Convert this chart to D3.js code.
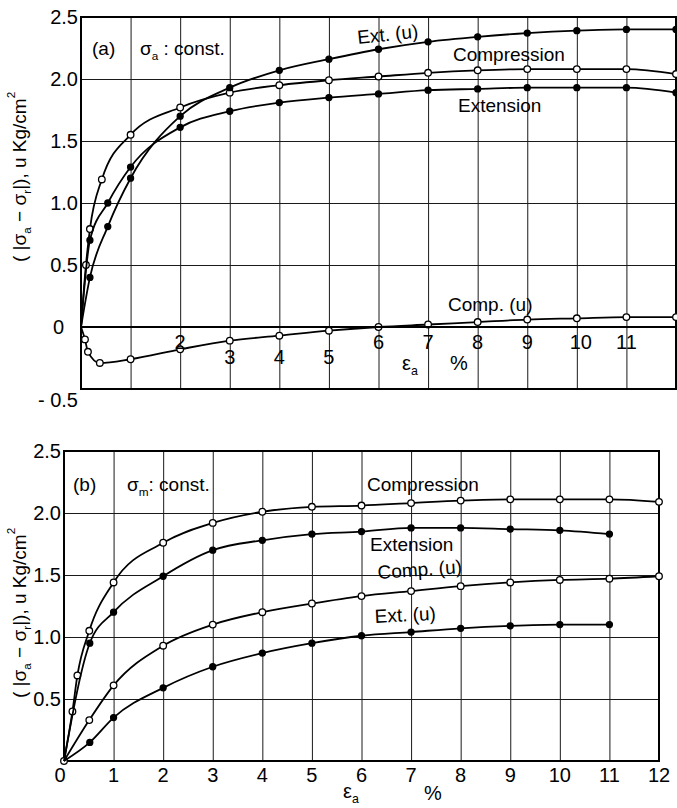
<!DOCTYPE html>
<meta charset="utf-8" />
<style>
  body { margin: 0; background: #fff; }
  svg { display: block; background: #fff; font-family: "Liberation Sans", Arial, sans-serif; }
  .grid line { stroke: #1a1a1a; stroke-width: 1; }
  .grid path { display: none; }
  .frame { fill: none; stroke: #000; stroke-width: 2; }
  .curve { fill: none; stroke: #000; stroke-width: 1.8; }
  .tick-lbl { font-size: 20px; fill: #000; }
  .lbl { font-size: 19px; fill: #000; }
</style>
<body>
<script src="https://d3js.org/d3.v7.min.js"></script>
<script>

// ---- panel (a): sigma_a const. ----
var aCompX   = [0, 0.1, 0.18, 0.42, 1, 2, 3, 4, 5, 6, 7, 8, 9, 10, 11, 12];
var aCompY   = [0, 0.50, 0.79, 1.19, 1.55, 1.77, 1.89, 1.95, 1.99, 2.02, 2.05, 2.07, 2.08, 2.08, 2.08, 2.04];
var aExtX    = [0, 0.18, 0.54, 1, 2, 3, 4, 5, 6, 7, 8, 9, 10, 11, 12];
var aExtY    = [0, 0.70, 1.00, 1.29, 1.61, 1.74, 1.81, 1.85, 1.88, 1.91, 1.92, 1.93, 1.93, 1.93, 1.89];
var aExtUX   = [0, 0.18, 0.54, 1, 2, 3, 4, 5, 6, 7, 8, 9, 10, 11, 12];
var aExtUY   = [0, 0.40, 0.81, 1.20, 1.70, 1.93, 2.07, 2.16, 2.24, 2.30, 2.34, 2.37, 2.39, 2.40, 2.40];
var aCompUX  = [0, 0.08, 0.14, 0.38, 1, 2, 3, 4, 5, 6, 7, 8, 9, 10, 11, 12];
var aCompUY  = [0, -0.10, -0.20, -0.29, -0.26, -0.18, -0.11, -0.07, -0.03, 0.00, 0.02, 0.04, 0.06, 0.07, 0.08, 0.08];

// ---- panel (b): sigma_m const. ----
var bCompX   = [0, 0.17, 0.27, 0.51, 1, 2, 3, 4, 5, 6, 7, 8, 9, 10, 11, 12];
var bCompY   = [0, 0.40, 0.69, 1.05, 1.44, 1.76, 1.92, 2.01, 2.05, 2.06, 2.08, 2.10, 2.11, 2.11, 2.11, 2.09];
var bExtX    = [0, 0.52, 1, 2, 3, 4, 5, 6, 7, 8, 9, 10, 11];
var bExtY    = [0, 0.95, 1.20, 1.49, 1.70, 1.78, 1.83, 1.85, 1.88, 1.88, 1.87, 1.86, 1.83];
var bCompUX  = [0, 0.51, 1, 2, 3, 4, 5, 6, 7, 8, 9, 10, 11, 12];
var bCompUY  = [0, 0.33, 0.61, 0.93, 1.10, 1.20, 1.27, 1.33, 1.37, 1.41, 1.44, 1.46, 1.47, 1.49];
var bExtUX   = [0, 0.52, 1, 2, 3, 4, 5, 6, 7, 8, 9, 10, 11];
var bExtUY   = [0, 0.15, 0.35, 0.59, 0.76, 0.87, 0.95, 1.01, 1.04, 1.07, 1.09, 1.10, 1.10];

// tick labels
var aYTicks  = [2.5, 2.0, 1.5, 1.0, 0.5, 0, -0.5];
var aYLabels = ["2.5", "2.0", "1.5", "1.0", "0.5", "0", "- 0.5"];
var aXTicks  = [2, 3, 4, 5, 6, 7, 8, 9, 10, 11];
var bYTicks  = [2.5, 2.0, 1.5, 1.0, 0.5];
var bYLabels = ["2.5", "2.0", "1.5", "1.0", "0.5"];
var bXTicks  = [0, 1, 2, 3, 4, 5, 6, 7, 8, 9, 10, 11, 12];
var gridX    = [1, 2, 3, 4, 5, 6, 7, 8, 9, 10, 11];

function pairs(xs, ys) {
  return xs.map(function(v, i) { return [v, ys[i]]; });
}

var svg = d3.select("body").append("svg")
    .attr("width", 677)
    .attr("height", 808);

// scales
var xA = d3.scaleLinear().domain([0, 12]).range([81, 676]);
var yA = d3.scaleLinear().domain([-0.5, 2.5]).range([389, 17]);
var xB = d3.scaleLinear().domain([0, 12]).range([64, 659]);
var yB = d3.scaleLinear().domain([0, 2.5]).range([761, 451]);

function drawPanel(x, y, yMin, yGrid, series) {
  var g = svg.append("g");
  var w = x(12) - x(0), h = y(yMin) - y(2.5);

  g.append("g").attr("class", "grid")
      .attr("transform", "translate(0," + y(yMin) + ")")
      .call(d3.axisBottom(x).tickValues(gridX).tickSize(-h).tickFormat(""));
  g.append("g").attr("class", "grid")
      .attr("transform", "translate(" + x(0) + ",0)")
      .call(d3.axisLeft(y).tickValues(yGrid).tickSize(-w).tickFormat(""));

  g.append("rect").attr("class", "frame")
      .attr("x", x(0)).attr("y", y(2.5))
      .attr("width", w).attr("height", h);

  var line = d3.line()
      .x(function(d) { return x(d[0]); })
      .y(function(d) { return y(d[1]); })
      .curve(d3.curveMonotoneX);

  series.forEach(function(s) {
    var pts = pairs(s.x, s.y);
    g.append("path").attr("class", "curve").attr("d", line(pts));
    g.selectAll(null)
        .data(pts.slice(s.from))
        .enter().append("circle")
        .attr("cx", function(d) { return x(d[0]); })
        .attr("cy", function(d) { return y(d[1]); })
        .attr("r", s.open ? 3.3 : 3)
        .attr("fill", s.open ? "#fff" : "#000")
        .attr("stroke", "#000")
        .attr("stroke-width", 1.3);
  });
  return g;
}

// text helper: parts are [text, kind] where kind is "sub", "sup" or "back" (back to baseline)
function richText(parent, px, py, parts, cls, rot) {
  var t = parent.append("text").attr("class", cls)
      .attr("x", px).attr("y", py);
  if (rot) t.attr("transform", "rotate(" + rot + "," + px + "," + py + ")");
  parts.forEach(function(p) {
    var ts = t.append("tspan").text(p[0]);
    if (p[1] === "sub") ts.attr("font-size", "0.62em").attr("dy", "0.4em");
    if (p[1] === "sup") ts.attr("font-size", "0.62em").attr("dy", "-0.9em");
    if (p[1] === "back") ts.attr("dy", "-0.248em");
  });
  return t;
}

// ---------- panel (a) ----------
var gA = drawPanel(xA, yA, -0.5, [0.5, 1.0, 1.5, 2.0], [
  {x: aCompX,  y: aCompY,  open: true,  from: 1},
  {x: aExtX,   y: aExtY,   open: false, from: 1},
  {x: aExtUX,  y: aExtUY,  open: false, from: 1},
  {x: aCompUX, y: aCompUY, open: true,  from: 1}
]);

// zero line
gA.append("line")
    .attr("x1", xA(0)).attr("x2", xA(12))
    .attr("y1", yA(0)).attr("y2", yA(0))
    .attr("stroke", "#000").attr("stroke-width", 2);

gA.selectAll(".ylab").data(aYTicks).enter().append("text")
    .attr("class", "tick-lbl")
    .attr("x", function(d) { return d === 0 ? 64 : 78; })
    .attr("y", function(d) { return d === -0.5 ? yA(d) + 11 : yA(d); })
    .attr("dy", "0.36em")
    .attr("text-anchor", "end")
    .text(function(d, i) { return aYLabels[i]; });

gA.selectAll(".xlab").data(aXTicks).enter().append("text")
    .attr("class", "tick-lbl")
    .attr("x", function(d) { return xA(d) + (d === 10 ? 4 : 0); })
    .attr("y", function(d) { return (d >= 3 && d <= 5) ? yA(-0.24) : yA(-0.12); })
    .attr("dy", "0.36em")
    .attr("text-anchor", "middle")
    .text(function(d) { return d; });

richText(gA, 402, 370, [["ε"], ["a", "sub"]], "tick-lbl");
gA.append("text").attr("class", "tick-lbl").attr("x", 450).attr("y", 370).text("%");

gA.append("text").attr("class", "lbl").attr("x", 92).attr("y", 55).text("(a)");
richText(gA, 140, 55, [["σ"], ["a", "sub"], [" :  const.", "back"]], "lbl").attr("font-size", "20px");
richText(gA, 358, 44, [["Ext. (u)"]], "lbl", -6);
richText(gA, 453, 61, [["Compression"]], "lbl");
richText(gA, 458, 112, [["Extension"]], "lbl");
richText(gA, 448, 311, [["Comp. (u)"]], "lbl");

richText(svg, 26, 262, [["( |σ"], ["a", "sub"], [" − σ", "back"], ["r", "sub"],
    ["|), u  Kg/cm", "back"], ["2", "sup"]], "lbl", -90)
    .attr("font-size", "18.5px");

// ---------- panel (b) ----------
var gB = drawPanel(xB, yB, 0, [0.5, 1.0, 1.5, 2.0], [
  {x: bCompX,  y: bCompY,  open: true,  from: 0},
  {x: bExtX,   y: bExtY,   open: false, from: 1},
  {x: bCompUX, y: bCompUY, open: true,  from: 1},
  {x: bExtUX,  y: bExtUY,  open: false, from: 1}
]);

gB.selectAll(".ylab").data(bYTicks).enter().append("text")
    .attr("class", "tick-lbl")
    .attr("x", 61)
    .attr("y", function(d) { return yB(d); })
    .attr("dy", "0.36em")
    .attr("text-anchor", "end")
    .text(function(d, i) { return bYLabels[i]; });

gB.selectAll(".xlab").data(bXTicks).enter().append("text")
    .attr("class", "tick-lbl")
    .attr("x", function(d) { return xB(d) - (d === 0 ? 4 : 0); })
    .attr("y", 775)
    .attr("dy", "0.36em")
    .attr("text-anchor", "middle")
    .text(function(d) { return d; });

richText(gB, 343, 798, [["ε"], ["a", "sub"]], "tick-lbl");
gB.append("text").attr("class", "tick-lbl").attr("x", 424).attr("y", 800).text("%");

gB.append("text").attr("class", "lbl").attr("x", 73).attr("y", 491).text("(b)");
richText(gB, 127, 491, [["σ"], ["m", "sub"], [":  const.", "back"]], "lbl");
richText(gB, 367, 491, [["Compression"]], "lbl").attr("font-size", "18.5px");
richText(gB, 370, 551, [["Extension"]], "lbl").attr("font-size", "18.5px");
richText(gB, 378, 579, [["Comp. (u)"]], "lbl", -4).attr("font-size", "18.5px");
richText(gB, 375, 623, [["Ext. (u)"]], "lbl", -3).attr("font-size", "18.5px");

richText(svg, 26, 698, [["( |σ"], ["a", "sub"], [" − σ", "back"], ["r", "sub"],
    ["|), u  Kg/cm", "back"], ["2", "sup"]], "lbl", -90)
    .attr("font-size", "18.5px");

</script>
</body>
